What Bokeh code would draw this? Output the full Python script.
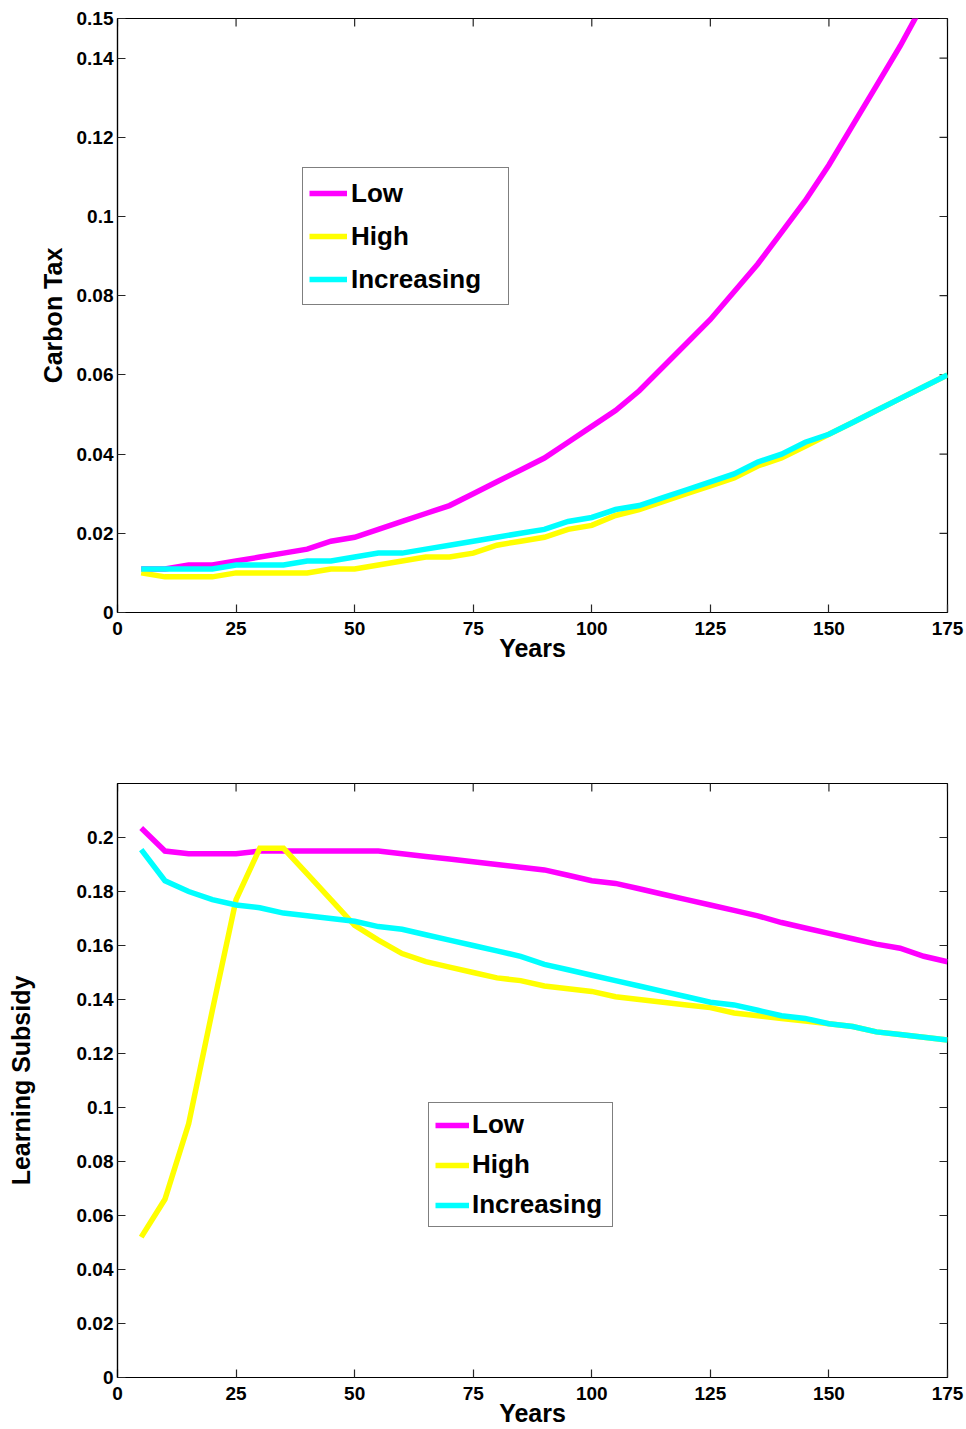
from bokeh.plotting import figure
from bokeh.models import FixedTicker, Range1d, Legend, LegendItem
from bokeh.layouts import column
from bokeh.embed import file_html
from bokeh.resources import INLINE

years = [5, 10, 15, 20, 25, 30, 35, 40, 45, 50, 55, 60, 65, 70, 75, 80, 85, 90,
         95, 100, 105, 110, 115, 120, 125, 130, 135, 140, 145, 150, 155, 160, 165, 170, 175]

tax_low = [0.011, 0.011, 0.012, 0.012, 0.013, 0.014, 0.015, 0.016, 0.018, 0.019, 0.021, 0.023,
           0.025, 0.027, 0.030, 0.033, 0.036, 0.039, 0.043, 0.047, 0.051, 0.056, 0.062, 0.068,
           0.074, 0.081, 0.088, 0.096, 0.104, 0.113, 0.123, 0.133, 0.143, 0.154, 0.166]
tax_high = [0.010, 0.009, 0.009, 0.009, 0.010, 0.010, 0.010, 0.010, 0.011, 0.011, 0.012, 0.013,
            0.014, 0.014, 0.015, 0.017, 0.018, 0.019, 0.021, 0.022, 0.0245, 0.026, 0.028, 0.030,
            0.032, 0.034, 0.037, 0.039, 0.042, 0.045, 0.048, 0.051, 0.054, 0.057, 0.060]
tax_incr = [0.011, 0.011, 0.011, 0.011, 0.012, 0.012, 0.012, 0.013, 0.013, 0.014, 0.015, 0.015,
            0.016, 0.017, 0.018, 0.019, 0.020, 0.021, 0.023, 0.024, 0.026, 0.027, 0.029, 0.031,
            0.033, 0.035, 0.038, 0.040, 0.043, 0.045, 0.048, 0.051, 0.054, 0.057, 0.060]

sub_low = [0.2035, 0.195, 0.194, 0.194, 0.194, 0.195, 0.195, 0.195, 0.195, 0.195, 0.195, 0.194,
           0.193, 0.192, 0.191, 0.190, 0.189, 0.188, 0.186, 0.184, 0.183, 0.181, 0.179, 0.177,
           0.175, 0.173, 0.171, 0.1685, 0.1665, 0.1645, 0.1625, 0.1605, 0.159, 0.156, 0.154]
sub_high = [0.052, 0.066, 0.094, 0.136, 0.177, 0.196, 0.196, 0.1865, 0.177, 0.1675, 0.162, 0.157,
            0.154, 0.152, 0.150, 0.148, 0.147, 0.145, 0.144, 0.143, 0.141, 0.140, 0.139, 0.138,
            0.137, 0.135, 0.134, 0.133, 0.132, 0.131, 0.130, 0.128, 0.127, 0.126, 0.125]
sub_incr = [0.1955, 0.184, 0.180, 0.177, 0.175, 0.174, 0.172, 0.171, 0.170, 0.169, 0.167, 0.166,
            0.164, 0.162, 0.160, 0.158, 0.156, 0.153, 0.151, 0.149, 0.147, 0.145, 0.143, 0.141,
            0.139, 0.138, 0.136, 0.134, 0.133, 0.131, 0.130, 0.128, 0.127, 0.126, 0.125]

x_ticks = [0, 25, 50, 75, 100, 125, 150, 175]
tax_ticks = [0, 0.02, 0.04, 0.06, 0.08, 0.1, 0.12, 0.14, 0.15]
tax_tick_labels = ["0", "0.02", "0.04", "0.06", "0.08", "0.1", "0.12", "0.14", "0.15"]
sub_ticks = [0, 0.02, 0.04, 0.06, 0.08, 0.1, 0.12, 0.14, 0.16, 0.18, 0.2]
sub_tick_labels = ["0", "0.02", "0.04", "0.06", "0.08", "0.1", "0.12", "0.14", "0.16", "0.18", "0.2"]

series_names = ["Low", "High", "Increasing"]
series_colors = ["#FF00FF", "#FFFF00", "#00FFFF"]

FONT = "Liberation Sans"
XMAX = 175
FRAME_W = 830
FRAME_H = 594
TICK_LEN = 8


def style_axis(ax):
    ax.axis_line_color = "black"
    ax.axis_line_width = 1.2
    ax.major_tick_in = TICK_LEN
    ax.major_tick_out = 0
    ax.major_tick_line_color = "#262626"
    ax.major_tick_line_width = 1.2
    ax.minor_tick_line_color = None
    ax.major_label_text_font = FONT
    ax.major_label_text_font_style = "bold"
    ax.major_label_text_font_size = "19px"
    ax.major_label_text_color = "black"
    ax.axis_label_text_font = FONT
    ax.axis_label_text_font_style = "bold"
    ax.axis_label_text_font_size = "25px"
    ax.axis_label_text_color = "black"


def make_panel(ys, ymax, yticks, ylabels, ylabel, h, btop, bbottom,
               legend_loc, ylab_standoff, leg_cfg):
    p = figure(width=966, height=h, output_backend="svg", toolbar_location=None,
               x_range=Range1d(0, XMAX), y_range=Range1d(0, ymax),
               min_border_left=117, min_border_right=19,
               min_border_top=btop, min_border_bottom=bbottom)
    p.xgrid.visible = False
    p.ygrid.visible = False
    p.outline_line_color = "black"
    p.outline_line_width = 1.2
    p.background_fill_color = "white"
    p.border_fill_color = "white"

    # inward ticks on top and right edges (mirroring the axis ticks)
    dx = TICK_LEN * XMAX / FRAME_W
    dy = TICK_LEN * ymax / FRAME_H
    p.segment(x0=[XMAX] * len(yticks), y0=yticks, x1=[XMAX - dx] * len(yticks), y1=yticks,
              line_color="#262626", line_width=1.2)
    p.segment(x0=x_ticks, y0=[ymax] * len(x_ticks), x1=x_ticks, y1=[ymax - dy] * len(x_ticks),
              line_color="#262626", line_width=1.2)

    renderers = []
    for vals, col in zip(ys, series_colors):
        r = p.line(years, vals, line_color=col, line_width=5.5, line_join="miter")
        renderers.append(r)

    p.xaxis.ticker = FixedTicker(ticks=x_ticks)
    p.yaxis.ticker = FixedTicker(ticks=yticks)
    p.yaxis.major_label_overrides = {t: l for t, l in zip(yticks, ylabels)}
    p.xaxis.axis_label = "Years"
    p.yaxis.axis_label = ylabel
    for ax in p.xaxis:
        style_axis(ax)
        ax.major_label_standoff = 9
        ax.axis_label_standoff = -4
    for ax in p.yaxis:
        style_axis(ax)
        ax.major_label_standoff = 4
        ax.axis_label_standoff = ylab_standoff

    items = [LegendItem(label=n, renderers=[r]) for n, r in zip(series_names, renderers)]
    leg = Legend(items=items, location=legend_loc)
    leg.label_text_font = FONT
    leg.label_text_font_style = "bold"
    leg.label_text_font_size = "26px"
    leg.label_text_color = "black"
    leg.border_line_color = "black"
    leg.border_line_width = 1
    leg.background_fill_color = "white"
    leg.background_fill_alpha = 1
    leg.padding = 6
    leg.margin = 0
    leg.glyph_width = leg_cfg["gw"]
    leg.glyph_height = 20
    leg.label_standoff = leg_cfg["so"]
    leg.label_width = leg_cfg["lw"]
    leg.label_height = leg_cfg["lh"]
    leg.spacing = leg_cfg["sp"]
    p.add_layout(leg)
    return p


p1 = make_panel([tax_low, tax_high, tax_incr], 0.15, tax_ticks, tax_tick_labels, "Carbon Tax",
                715, 18, 103, (185, 307), 7,
                {"gw": 38, "so": 4, "lw": 151, "lh": 38, "sp": 5})
p2 = make_panel([sub_low, sub_high, sub_incr], 0.22, sub_ticks, sub_tick_labels, "Learning Subsidy",
                714, 68, 52, (311, 150), 39,
                {"gw": 34, "so": 3, "lw": 134, "lh": 31, "sp": 9})

layout = column(p1, p2, spacing=0)
open("out.html", "w").write(file_html(layout, INLINE))
